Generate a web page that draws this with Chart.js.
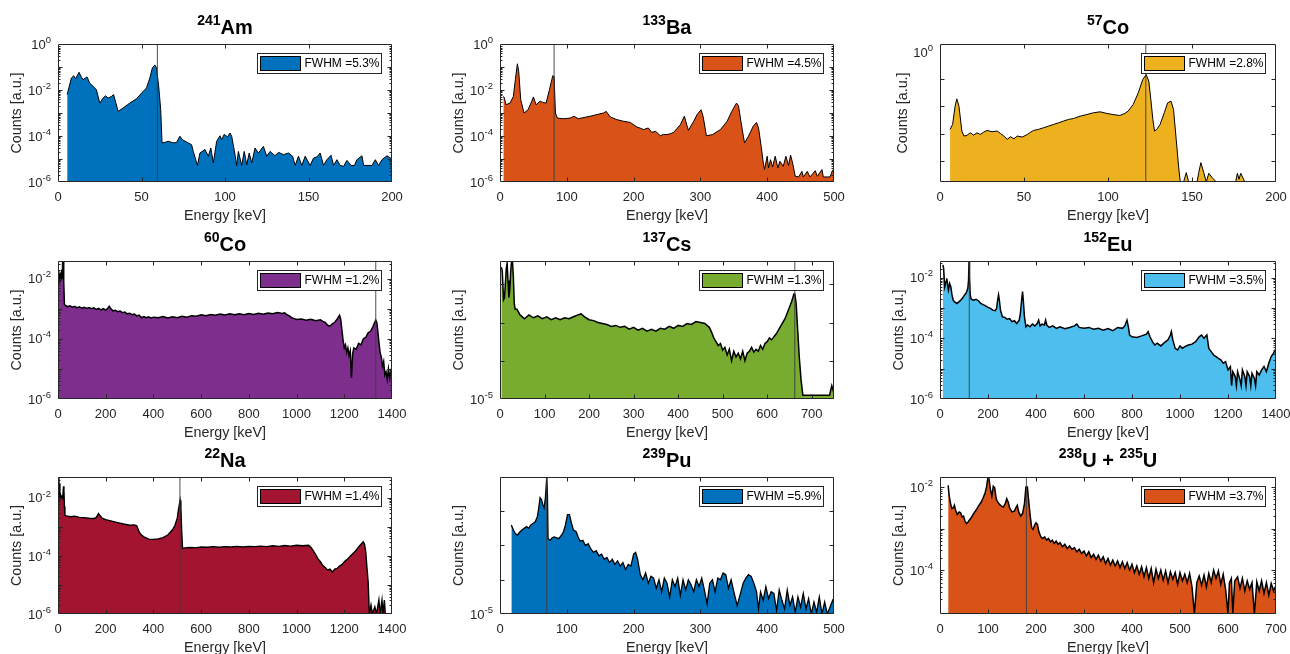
<!DOCTYPE html>
<html>
<head>
<meta charset="utf-8">
<title>Gamma spectra</title>
<script src="https://cdn.jsdelivr.net/npm/chart.js@4.4.1/dist/chart.umd.min.js"></script>
<style>
    body {
        margin: 0;
        width: 1290px;
        height: 654px;
        position: relative;
        overflow: hidden;
        background: #fff;
        font-family: "Liberation Sans", Arial, Helvetica, sans-serif;
    }
    canvas { position: absolute; }
    .panel-title {
        position: absolute;
        transform: translateX(-50%);
        font-size: 20px;
        line-height: 24px;
        font-weight: bold;
        color: #000;
        white-space: nowrap;
    }
    .panel-title sup {
        font-size: 14px;
        line-height: 0;
        position: relative;
        top: -9px;
        vertical-align: baseline;
    }
</style>
</head>
<body>
<script>
'use strict';

// ---- data (energy in keV, counts as log10 of a.u.) ----

const amEnergy = [5.5, 8, 9.4, 10.6, 12.6, 13.8, 15, 17.4, 19, 22, 23, 25, 27, 28.5, 30, 32, 33.3, 36, 39, 43,
    47, 51, 53, 55, 56.5, 58, 59, 60.3, 61.5, 62.3, 64, 66, 69, 71, 73, 74.5, 78, 80, 81, 83.5,
    85, 88, 90, 91.5, 93, 95, 97, 98, 99.5, 101.5, 103, 104, 106, 107, 108, 110, 111.5, 113, 114.5, 116,
    118, 120, 123, 125, 127, 130, 132, 135, 138, 140.5, 142, 144, 146, 148, 151, 153, 155, 157, 159, 161,
    163.5, 165, 167, 169, 171, 173, 175.5, 177.5, 179, 182, 183, 188, 190, 192, 194, 197, 200];
const amLogCounts = [-2.20, -1.48, -1.38, -1.51, -1.23, -1.41, -1.55, -1.43, -1.70, -1.91, -1.99, -2.57, -2.35, -2.25, -2.35, -2.28, -2.20, -2.93, -2.78, -2.57,
    -2.38, -2.06, -1.91, -1.48, -1.04, -0.91, -1.04, -1.84, -2.86, -4.30, -4.28, -4.23, -4.30, -4.28, -4.01, -4.16, -4.30, -4.38, -4.67, -5.28,
    -4.74, -4.59, -4.88, -4.52, -5.17, -4.23, -3.99, -4.16, -3.93, -4.04, -3.87, -4.01, -4.81, -5.28, -4.67, -5.28, -4.67, -5.25, -4.74, -5.17,
    -4.52, -4.74, -4.45, -4.88, -4.67, -4.86, -4.71, -4.81, -4.74, -4.88, -5.28, -4.88, -5.28, -4.88, -5.28, -4.96, -4.91, -4.74, -5.28, -5.03,
    -4.84, -5.28, -5.03, -5.28, -5.32, -5.06, -5.28, -5.28, -5.03, -4.86, -5.28, -5.28, -5.03, -5.28, -5.03, -4.86, -5.00];

const baEnergy = [5, 6, 9, 15, 20, 23, 26, 28, 31, 36, 42, 47.5, 50, 54, 60, 64, 69, 74, 79, 81,
    83, 86, 95, 105, 111, 117, 135, 145, 155, 159, 165, 175, 185, 195, 205, 210, 215, 222, 227, 233,
    240, 245, 250, 255, 260, 270, 276, 280, 282, 290, 295, 301, 304, 309, 318, 330, 340, 347, 354, 357,
    361, 366, 372, 379, 384, 387, 391, 394, 396, 400, 402, 405, 408, 412, 416, 419, 424, 428, 432, 435,
    438, 442, 447, 452, 454, 460, 464, 472, 475, 482, 484, 494, 498, 500];
const baLogCounts = [-2.28, -2.30, -2.64, -2.57, -2.28, -1.55, -0.86, -1.19, -2.42, -3.00, -2.86, -2.49, -2.30, -2.64, -2.49, -2.54, -2.57, -1.99, -1.38, -1.41,
    -3.00, -3.22, -3.25, -3.22, -3.14, -3.25, -3.14, -3.07, -3.00, -2.93, -3.17, -3.29, -3.36, -3.41, -3.61, -3.66, -3.72, -3.65, -3.84, -3.80,
    -3.99, -3.93, -3.94, -3.90, -3.84, -3.51, -3.14, -3.55, -3.75, -3.36, -3.07, -2.86, -3.14, -3.99, -3.94, -3.72, -3.36, -2.93, -2.57, -2.68,
    -3.43, -4.30, -4.01, -3.58, -3.41, -3.65, -4.45, -5.14, -5.46, -4.88, -5.39, -5.03, -5.35, -4.88, -5.39, -5.10, -5.32, -4.88, -5.28, -4.83,
    -5.17, -5.75, -5.78, -5.54, -5.78, -5.54, -5.78, -5.51, -5.75, -5.46, -5.78, -5.78, -5.49, -5.49];

const co57Energy = [6, 7.5, 9, 10, 11.3, 13, 14.3, 16, 18, 20, 22, 24, 26, 28, 31, 34, 36, 38, 40, 42,
    44, 46, 49, 52, 54, 55.6, 58.6, 61.6, 64.6, 67.5, 70.5, 73.5, 76.5, 79.5, 83.4, 87.4, 91.4, 95.3, 99.3, 103,
    107, 110, 112, 115, 118, 120.7, 122.7, 124.3, 125.5, 126.7, 127.7, 129, 131, 133.5, 135.5, 137.5, 139, 140.6, 142, 143,
    145, 146.6, 148, 153, 154, 155.3, 157, 158.5, 160, 162, 164.5, 176, 177, 178, 179, 181.5, 200];
const co57LogCounts = [-0.568, -0.532, -0.398, -0.344, -0.398, -0.580, -0.617, -0.612, -0.593, -0.610, -0.593, -0.605, -0.588, -0.576, -0.585, -0.580, -0.598, -0.617, -0.641, -0.622,
    -0.637, -0.617, -0.624, -0.605, -0.588, -0.576, -0.568, -0.556, -0.544, -0.532, -0.520, -0.507, -0.495, -0.488, -0.471, -0.459, -0.446, -0.439, -0.451, -0.459,
    -0.466, -0.451, -0.434, -0.385, -0.300, -0.202, -0.166, -0.215, -0.349, -0.495, -0.580, -0.568, -0.532, -0.446, -0.373, -0.361, -0.422, -0.641, -0.837, -0.954,
    -0.954, -0.885, -0.954, -0.954, -0.885, -0.812, -0.885, -0.954, -0.890, -0.922, -0.954, -0.954, -0.890, -0.934, -0.890, -0.954, -0.954];

const co60Energy = [1, 3, 5, 7, 9, 11, 13, 15, 17, 19, 21, 23, 25, 27,
    30, 40, 50, 60, 70, 80, 90, 100, 110, 120, 130, 140, 150, 160, 170, 180, 190, 200, 210, 215,
    220, 230, 240, 250, 260, 270, 280, 290, 300, 310, 320, 330, 340, 350, 360, 370, 380, 390, 400,
    420, 440, 460, 480, 500, 520, 540, 560, 580, 600, 620, 640, 660, 680, 700, 720, 740, 760, 780, 800, 820, 840, 860, 880, 900, 920, 940,
    950, 960, 970, 980, 990, 1000, 1020, 1040, 1060, 1080, 1100, 1110, 1120, 1130, 1140, 1150, 1160, 1170,
    1175, 1180, 1185, 1190, 1195, 1200, 1205, 1210, 1215, 1220, 1225, 1230, 1235, 1240,
    1250, 1260, 1270, 1280, 1290, 1300, 1310, 1320, 1325, 1332, 1336, 1340,
    1345, 1350, 1355, 1360, 1365, 1370, 1375, 1380, 1385, 1390, 1395, 1400];
const co60LogCounts = [-2.0, -1.75, -2.1, -1.85, -2.05, -1.8, -2.0, -1.7, -1.95, -1.5, -1.41, -1.41, -2.1, -2.85,
    -2.88, -2.93, -2.9, -2.95, -2.92, -2.97, -2.94, -2.98, -2.95, -2.99, -2.96, -3.0, -2.97, -3.02, -2.99, -3.04, -3.0, -3.05, -2.97, -2.92,
    -2.98, -3.07, -3.05, -3.1, -3.08, -3.13, -3.11, -3.17, -3.15, -3.2, -3.18, -3.24, -3.21, -3.3, -3.26, -3.3, -3.27, -3.31, -3.28,
    -3.3, -3.26, -3.31, -3.27, -3.3, -3.25, -3.28, -3.23, -3.25, -3.2, -3.23, -3.19, -3.22, -3.18, -3.21, -3.17, -3.2, -3.17, -3.2, -3.16, -3.19, -3.15, -3.18, -3.14, -3.17, -3.13, -3.16,
    -3.14, -3.2, -3.24, -3.3, -3.33, -3.36, -3.34, -3.38, -3.35, -3.4, -3.37, -3.42, -3.45, -3.55, -3.58, -3.5, -3.45, -3.35,
    -3.28, -3.22, -3.35, -3.7, -4.05, -4.3, -4.2, -4.45, -4.3, -4.55, -4.4, -5.3, -4.5, -4.3,
    -4.35, -4.15, -4.2, -4.0, -3.95, -3.8, -3.75, -3.6, -3.5, -3.38, -3.45, -3.7,
    -4.1, -4.45, -4.6, -4.9, -4.75, -5.2, -5.1, -5.35, -5.0, -5.3, -5.1, -5.3];

const csEnergy = [3, 5, 8, 10, 12, 14, 16, 18, 20, 22, 24, 26, 28, 30, 32, 34, 38,
    45, 55, 65, 75, 85, 95, 105, 115, 125, 135, 145, 155, 165, 175, 182, 190,
    200, 210, 220, 230, 240, 250, 260, 270, 280, 290, 300, 310, 320, 330, 340, 350, 360, 370, 380, 390, 400, 410, 420, 430, 440, 450, 460, 470,
    475, 480, 485, 490, 495, 500, 505, 510, 515, 520, 525, 530, 535, 540, 545, 550, 555, 560, 565, 570, 575, 580, 585, 590, 595, 600, 605, 610,
    620, 630, 640, 650, 655, 660, 662, 665, 668, 672, 676, 680, 690, 700, 720, 740, 745, 750];
const csLogCounts = [-4.31, -4.33, -4.48, -4.47, -4.4, -4.32, -4.29, -4.38, -4.47, -4.43, -4.33, -4.28, -4.278, -4.36, -4.5, -4.53, -4.53,
    -4.56, -4.58, -4.56, -4.575, -4.565, -4.58, -4.57, -4.585, -4.575, -4.585, -4.575, -4.58, -4.57, -4.56, -4.555, -4.57,
    -4.585, -4.59, -4.6, -4.605, -4.61, -4.62, -4.615, -4.625, -4.62, -4.635, -4.625, -4.64, -4.63, -4.645, -4.635, -4.645, -4.63, -4.635, -4.62, -4.63, -4.615, -4.62, -4.605, -4.61, -4.595, -4.6, -4.605, -4.625,
    -4.65, -4.68, -4.7, -4.72, -4.71, -4.745, -4.73, -4.77, -4.74, -4.8, -4.75, -4.78, -4.76, -4.79, -4.75, -4.8, -4.76, -4.75, -4.73, -4.755, -4.74, -4.75, -4.72, -4.74, -4.71, -4.7, -4.68, -4.69,
    -4.66, -4.62, -4.58, -4.52, -4.49, -4.45, -4.45, -4.5, -4.62, -4.78, -4.9, -4.98, -4.98, -4.98, -4.98, -4.98, -4.93, -4.97];

const euEnergy = [12, 15, 20, 25, 28, 32, 35, 40, 45, 50, 55, 60, 70, 80, 90, 100, 110, 116, 119, 121,
    123, 126, 130, 140, 150, 160, 170, 180, 190, 200, 210, 220, 230, 236, 240, 244, 248, 252, 260, 270,
    280, 290, 300, 310, 320, 330, 335, 340, 344, 347, 352, 358, 365, 375, 385, 395, 405, 411, 417, 425,
    435, 440, 445, 455, 470, 485, 500, 520, 540, 560, 570, 580, 600, 620, 640, 660, 680, 700, 720, 740,
    760, 770, 779, 785, 790, 800, 820, 840, 860, 867, 875, 885, 895, 905, 920, 935, 950, 960, 964, 970,
    980, 990, 1000, 1010, 1020, 1035, 1050, 1065, 1080, 1090, 1100, 1112, 1120, 1130, 1140, 1150, 1160, 1170, 1180, 1190,
    1200, 1210, 1215, 1220, 1230, 1235, 1240, 1250, 1255, 1260, 1270, 1275, 1280, 1290, 1295, 1300, 1310, 1315, 1320, 1330,
    1340, 1350, 1360, 1370, 1380, 1390, 1400];
const euLogCounts = [-1.58, -1.69, -2.30, -2.13, -2.02, -2.24, -2.41, -2.19, -2.30, -2.57, -2.74, -2.79, -2.85, -2.79, -2.71, -2.60, -2.49, -2.35, -2.08, -1.40,
    -1.97, -2.57, -2.71, -2.74, -2.71, -2.76, -2.85, -2.89, -2.93, -2.98, -3.01, -3.07, -3.09, -3.01, -2.74, -2.57, -2.79, -3.07, -3.29, -3.31,
    -3.37, -3.35, -3.45, -3.42, -3.51, -3.40, -3.18, -2.74, -2.46, -2.74, -3.29, -3.62, -3.56, -3.62, -3.53, -3.59, -3.51, -3.40, -3.59, -3.53,
    -3.56, -3.40, -3.56, -3.64, -3.59, -3.67, -3.62, -3.68, -3.64, -3.59, -3.53, -3.64, -3.67, -3.64, -3.70, -3.67, -3.73, -3.68, -3.75, -3.64,
    -3.67, -3.59, -3.40, -3.62, -3.89, -3.95, -3.97, -3.92, -3.86, -3.78, -3.95, -4.11, -4.22, -4.16, -4.25, -4.14, -4.05, -3.89, -3.78, -4.05,
    -4.33, -4.38, -4.25, -4.33, -4.27, -4.22, -4.19, -4.11, -3.95, -3.89, -4.00, -3.89, -4.33, -4.44, -4.55, -4.60, -4.66, -4.71, -4.82, -4.77,
    -5.04, -4.93, -5.56, -5.10, -5.26, -5.56, -5.10, -5.37, -5.56, -5.04, -5.26, -5.56, -5.10, -5.26, -5.56, -5.15, -5.32, -5.56, -5.10, -5.21,
    -5.04, -4.93, -5.10, -4.82, -4.60, -4.49, -4.33];

const naEnergy = [2, 4, 6, 8, 11, 14, 17, 20, 23, 25, 27, 29, 35, 50, 70, 90, 110, 130, 150, 160,
    170, 175, 185, 200, 225, 250, 275, 300, 320, 330, 340, 350, 360, 380, 400, 420, 440, 460, 480, 490,
    500, 505, 512, 515, 518, 522, 525, 550, 575, 600, 625, 650, 675, 700, 725, 750, 775, 800, 825, 850,
    875, 900, 925, 950, 975, 1000, 1025, 1050, 1060, 1070, 1080, 1090, 1100, 1110, 1120, 1130, 1140, 1150, 1160, 1170,
    1180, 1190, 1200, 1215, 1230, 1245, 1260, 1270, 1280, 1285, 1290, 1295, 1300, 1305, 1312, 1318, 1328, 1335, 1345, 1350,
    1358, 1362, 1368, 1372, 1400];
const naLogCounts = [-1.3, -1.85, -1.5, -2.0, -1.9, -2.0, -1.95, -2.0, -1.6, -1.74, -2.3, -2.6, -2.62, -2.65, -2.63, -2.67, -2.68, -2.7, -2.71, -2.68,
    -2.54, -2.6, -2.7, -2.75, -2.8, -2.85, -2.9, -2.94, -2.93, -2.96, -3.17, -3.28, -3.34, -3.42, -3.43, -3.41, -3.37, -3.28, -3.1, -2.95,
    -2.7, -2.4, -2.08, -2.3, -3.06, -3.74, -3.73, -3.71, -3.72, -3.69, -3.7, -3.68, -3.7, -3.68, -3.69, -3.67, -3.69, -3.67, -3.68, -3.66,
    -3.68, -3.65, -3.67, -3.64, -3.66, -3.63, -3.65, -3.63, -3.7, -3.82, -3.95, -4.1, -4.2, -4.33, -4.4, -4.49, -4.45, -4.55, -4.45, -4.43,
    -4.35, -4.3, -4.2, -4.1, -3.97, -3.85, -3.69, -3.6, -3.51, -3.6, -3.86, -4.4, -4.89, -6, -5.69, -6, -5.75, -6, -5.52, -6,
    -5.52, -6, -5.52, -6, -6];

const puEnergy = [17, 20, 23, 26, 30, 33, 36, 40, 43, 46, 50, 53, 56, 58, 60, 62, 64, 66, 68, 70,
    71, 72, 75, 78, 81, 85, 88, 92, 95, 98, 101, 104, 107, 110, 114, 117, 120, 124, 128, 132,
    136, 140, 144, 148, 152, 156, 160, 164, 168, 172, 176, 180, 184, 188, 192, 196, 200, 203, 206, 210,
    214, 218, 222, 226, 230, 234, 238, 242, 246, 250, 254, 258, 262, 266, 270, 274, 278, 282, 286, 290,
    294, 298, 302, 306, 310, 314, 318, 322, 326, 330, 334, 338, 342, 346, 350, 355, 360, 364, 368, 372,
    376, 380, 384, 387, 390, 394, 398, 402, 406, 410, 414, 418, 422, 426, 430, 434, 438, 442, 446, 450,
    454, 458, 462, 466, 470, 474, 478, 482, 486, 490, 494, 498, 500];
const puLogCounts = [-4.48, -4.51, -4.53, -4.54, -4.52, -4.51, -4.5, -4.49, -4.5, -4.48, -4.47, -4.46, -4.43, -4.38, -4.32, -4.33, -4.36, -4.38, -4.32, -4.2,
    -4.3, -4.56, -4.57, -4.555, -4.55, -4.555, -4.56, -4.54, -4.52, -4.48, -4.42, -4.42, -4.47, -4.51, -4.52, -4.55, -4.575, -4.57, -4.6, -4.59,
    -4.62, -4.64, -4.63, -4.66, -4.65, -4.68, -4.67, -4.7, -4.68, -4.71, -4.69, -4.72, -4.7, -4.74, -4.71, -4.72, -4.65, -4.64, -4.68, -4.77,
    -4.8, -4.76, -4.82, -4.78, -4.79, -4.85, -4.8, -4.87, -4.79, -4.82, -4.9, -4.8, -4.84, -4.79, -4.89, -4.8, -4.86, -4.8, -4.83, -4.87,
    -4.8, -4.84, -4.79, -4.86, -4.94, -4.82, -4.8, -4.87, -4.79, -4.8, -4.76, -4.77, -4.85, -4.8, -4.87, -4.95, -4.88, -4.82, -4.79, -4.77,
    -4.78, -4.82, -4.87, -4.97, -4.87, -4.92, -4.84, -4.91, -4.87, -4.88, -4.98, -4.86, -4.92, -4.97, -4.86, -4.95, -4.9, -4.99, -4.9, -4.96,
    -4.88, -4.97, -4.91, -5.0, -4.93, -4.99, -4.9, -5.0, -4.93, -5.0, -4.96, -4.92, -4.94];

const uEnergy = [17, 19, 22, 25, 28, 30, 33, 36, 40, 43, 46, 49, 52, 55, 58, 61, 65, 70, 75, 80,
    85, 90, 94, 97, 100, 102, 105, 108, 111, 114, 117, 120, 124, 128, 132, 136, 139, 142, 145, 150,
    155, 158, 161, 164, 168, 172, 176, 179, 182, 185, 188, 191, 194, 197, 200, 203, 206, 210, 214, 218,
    222, 226, 230, 234, 238, 242, 246,
    250, 255, 260, 265, 270, 275, 280, 285, 290, 295, 300, 305, 310, 315, 320, 325, 330, 335, 340, 345,
    350, 355, 360, 365, 370, 375, 380, 385, 390, 395, 400, 405, 410, 415, 420, 425, 430, 435, 440, 445,
    450, 455, 460, 465, 470, 475, 480, 485, 490, 495, 500, 505, 510, 515, 520, 525, 530, 535, 540, 545,
    550, 555, 560, 565, 570, 575, 580, 585, 590, 595, 600, 603, 607, 610, 614,
    620, 625, 630, 635, 640, 645, 650, 655, 660, 665, 670, 675, 680, 685, 690, 695, 700];
const uLogCounts = [-1.96, -2.2, -2.4, -2.52, -2.5, -2.44, -2.58, -2.66, -2.6, -2.62, -2.72, -2.7, -2.82, -2.88, -2.85, -2.8, -2.74, -2.64, -2.56, -2.46,
    -2.38, -2.26, -2.14, -2.0, -1.76, -1.8, -2.06, -2.22, -1.98, -2.02, -2.28, -2.36, -2.42, -2.46, -2.48, -2.4, -2.28, -2.36, -2.5, -2.6,
    -2.58, -2.5, -2.44, -2.6, -2.7, -2.64, -2.4, -2.0, -2.0, -2.36, -2.7, -2.98, -3.02, -2.92, -2.86, -2.9, -3.08, -3.2, -3.24, -3.2,
    -3.28, -3.24, -3.32, -3.28, -3.36, -3.3, -3.38,
    -3.34, -3.44, -3.38, -3.48, -3.42, -3.5, -3.46, -3.56, -3.5, -3.6, -3.54, -3.66, -3.56, -3.7, -3.62, -3.74, -3.64, -3.78, -3.68, -3.84,
    -3.72, -3.88, -3.76, -3.9, -3.78, -3.94, -3.8, -3.96, -3.82, -4.0, -3.86, -4.06, -3.9, -4.1, -3.92, -4.16, -3.94, -4.2, -3.96, -4.3,
    -3.98, -4.2, -4.0, -4.24, -4.02, -4.3, -4.04, -4.22, -4.06, -4.34, -4.06, -4.26, -4.1, -4.3, -4.08, -4.4, -5.05, -4.3, -4.14, -4.36,
    -4.12, -4.4, -4.08, -4.3, -4.0, -4.2, -4.02, -4.34, -4.1, -4.46, -5.05, -4.3, -4.2, -5.05, -4.26,
    -4.16, -4.44, -4.2, -4.5, -4.26, -4.46, -4.3, -5.05, -4.28, -4.5, -4.26, -4.56, -4.3, -4.6, -4.32, -4.5, -4.38];

// ---- per-panel labels and axis ranges (panel order: row by row) ----

const isotopeTitles = [
    [['241', 'Am']], [['133', 'Ba']], [['57', 'Co']],
    [['60', 'Co']], [['137', 'Cs']], [['152', 'Eu']],
    [['22', 'Na']], [['239', 'Pu']], [['238', 'U'], ['235', 'U']]
];
const fwhmLabels = ['FWHM =5.3%', 'FWHM =4.5%', 'FWHM =2.8%', 'FWHM =1.2%', 'FWHM =1.3%',
    'FWHM =3.5%', 'FWHM =1.4%', 'FWHM =5.9%', 'FWHM =3.7%'];
const peakEnergies = [59.5, 81, 122.5, 1332, 662, 122, 511, 70, 180];
const energyMax = [200, 500, 200, 1400, 750, 1400, 1400, 500, 700];
const energyTicks = [
    [0, 50, 100, 150, 200], [0, 100, 200, 300, 400, 500], [0, 50, 100, 150, 200],
    [0, 200, 400, 600, 800, 1000, 1200, 1400], [0, 100, 200, 300, 400, 500, 600, 700], [0, 200, 400, 600, 800, 1000, 1200, 1400],
    [0, 200, 400, 600, 800, 1000, 1200, 1400], [0, 100, 200, 300, 400, 500], [0, 100, 200, 300, 400, 500, 600, 700]
];
const countLogRanges = [[-6, 0], [-6, 0], [-0.954, 0.0585], [-6, -1.414], [-5, -4.278],
    [-6, -1.45], [-6, -1.28], [-5, -4.2], [-5.056, -1.76]];
const countLabelExponents = [[-6, -4, -2, 0], [-6, -4, -2, 0], [0], [-6, -4, -2], [-5],
    [-6, -4, -2], [-6, -4, -2], [-5], [-4, -2]];
const countSubDecadeTicks = [[], [], [-0.2, -0.4, -0.6, -0.8], [], [-4.8, -4.6, -4.4],
    [], [], [-4.8, -4.6, -4.4], []];

const spectra = [
    [amEnergy, amLogCounts], [baEnergy, baLogCounts], [co57Energy, co57LogCounts],
    [co60Energy, co60LogCounts], [csEnergy, csLogCounts], [euEnergy, euLogCounts],
    [naEnergy, naLogCounts], [puEnergy, puLogCounts], [uEnergy, uLogCounts]
];

// ---- look ----

const areaColors = ['#0072BD', '#D95319', '#EDB120', '#7E2F8E', '#77AC30', '#4DBEEE', '#A2142F', '#0072BD', '#D95319'];
const edgeWidths = [1, 1, 1, 1.5, 1.5, 1.5, 1.4, 1.3, 1.5];
const axisColor = '#262626';
const fontFamily = '"Liberation Sans", Arial, Helvetica, sans-serif';
const colLeft = [58, 500, 940];
const colWidth = [334, 334, 336];
const rowTop = [44, 261, 477];
const rowHeight = [138, 138, 137];
const yAxisWidth = 50;
const xAxisHeight = 43;
const padTop = 10;
const padRight = 26;

Chart.defaults.font.family = fontFamily;

function buildPoints(energy, logCounts) {
    const n = Math.min(energy.length, logCounts.length);
    if (energy.length !== logCounts.length) console.warn('length mismatch', energy.length, logCounts.length);
    const points = [];
    for (let i = 0; i < n; i++) points.push({ x: energy[i], y: 10 ** logCounts[i] });
    return points;
}

// frame with inward ticks on all four sides, 10^n tick labels, boxed legend (MATLAB style)
const matlabFrame = {
    id: 'matlabFrame',
    afterDatasetsDraw(chart) {
        const spec = chart.options.plugins.matlabFrame;
        const { ctx, chartArea: a, scales: { x, y } } = chart;
        const left = Math.round(a.left) + 0.5;
        const right = Math.round(a.right) - 0.5;
        const top = Math.round(a.top) + 0.5;
        const bottom = Math.round(a.bottom) - 0.5;

        ctx.save();
        ctx.strokeStyle = axisColor;
        ctx.lineWidth = 1;
        ctx.beginPath();
        ctx.rect(left, top, right - left, bottom - top);

        spec.xTicks.forEach(v => {
            const px = Math.round(x.getPixelForValue(v)) + 0.5;
            if (px <= left + 1 || px >= right - 1) return;
            ctx.moveTo(px, bottom); ctx.lineTo(px, bottom - 4);
            ctx.moveTo(px, top); ctx.lineTo(px, top + 4);
        });

        const yTick = (logV, len) => {
            const py = Math.round(y.getPixelForValue(10 ** logV)) + 0.5;
            if (py <= top + 1 || py >= bottom - 1) return;
            ctx.moveTo(left, py); ctx.lineTo(left + len, py);
            ctx.moveTo(right, py); ctx.lineTo(right - len, py);
        };
        const [lo, hi] = spec.logRange;
        if (spec.subDecade.length) {
            spec.subDecade.forEach(v => yTick(v, 4));
        } else {
            for (let n = Math.floor(lo); n <= Math.ceil(hi); n++) {
                for (let k = 1; k <= 9; k++) {
                    const lv = n + Math.log10(k);
                    if (lv > lo && lv < hi) yTick(lv, k === 1 ? 4 : 2);
                }
            }
        }
        ctx.stroke();

        // y tick labels as 10 with a raised exponent
        ctx.fillStyle = axisColor;
        ctx.textBaseline = 'middle';
        ctx.textAlign = 'left';
        y.ticks.forEach(t => {
            const exp = String(Math.round(Math.log10(t.value)));
            const py = y.getPixelForValue(t.value);
            ctx.font = '9.5px ' + fontFamily;
            const wExp = ctx.measureText(exp).width;
            ctx.font = '13px ' + fontFamily;
            const wBase = ctx.measureText('10').width;
            const xEnd = a.left - 7;
            ctx.fillText('10', xEnd - wExp - wBase, py + 1);
            ctx.font = '9.5px ' + fontFamily;
            ctx.fillText(exp, xEnd - wExp, py - 4);
        });

        // legend box
        const boxW = 124, boxH = 20;
        const bx = Math.round(a.right - 11 - boxW) + 0.5;
        const by = Math.round(a.top + 9) + 0.5;
        ctx.fillStyle = '#fff';
        ctx.fillRect(bx, by, boxW, boxH);
        ctx.strokeStyle = axisColor;
        ctx.strokeRect(bx, by, boxW, boxH);
        ctx.fillStyle = spec.color;
        ctx.fillRect(bx + 3, by + 3, 40, boxH - 6);
        ctx.strokeStyle = '#000';
        ctx.strokeRect(bx + 3, by + 3, 40, boxH - 6);
        ctx.fillStyle = '#000';
        ctx.font = '12px ' + fontFamily;
        ctx.fillText(spec.label, bx + 47, by + boxH / 2 + 0.5);
        ctx.restore();
    }
};

function addTitle(parts, centerX, plotTop) {
    const div = document.createElement('div');
    div.className = 'panel-title';
    div.style.left = centerX + 'px';
    div.style.top = (plotTop - 29) + 'px';
    div.innerHTML = parts.map(([mass, symbol]) => `<sup>${mass}</sup>${symbol}`).join(' + ');
    document.body.appendChild(div);
}

function drawPanel(i) {
    const col = i % 3;
    const row = Math.floor(i / 3);
    const plotLeft = colLeft[col];
    const plotTop = rowTop[row];
    const plotW = colWidth[col];
    const plotH = rowHeight[row];

    const canvas = document.createElement('canvas');
    canvas.width = yAxisWidth + plotW + padRight;
    canvas.height = padTop + plotH + xAxisHeight + 2;
    canvas.style.left = (plotLeft - yAxisWidth) + 'px';
    canvas.style.top = (plotTop - padTop) + 'px';
    document.body.appendChild(canvas);

    const [lo, hi] = countLogRanges[i];
    const [energy, logCounts] = spectra[i];
    const peak = peakEnergies[i];

    new Chart(canvas.getContext('2d'), {
        type: 'line',
        data: {
            datasets: [
                {
                    label: fwhmLabels[i],
                    data: buildPoints(energy, logCounts),
                    borderColor: '#000',
                    borderWidth: edgeWidths[i],
                    borderJoinStyle: 'miter',
                    backgroundColor: areaColors[i],
                    fill: 'start',
                    pointRadius: 0,
                    tension: 0,
                    order: 2
                },
                {
                    label: 'peak',
                    data: [{ x: peak, y: 10 ** lo }, { x: peak, y: 10 ** hi }],
                    borderColor: 'rgba(60,60,60,0.9)',
                    borderWidth: 1,
                    fill: false,
                    pointRadius: 0,
                    order: 1
                }
            ]
        },
        options: {
            responsive: false,
            animation: false,
            devicePixelRatio: 1,
            layout: { padding: { left: 0, top: padTop, right: padRight, bottom: 2 } },
            plugins: {
                legend: { display: false },
                tooltip: { enabled: false },
                matlabFrame: {
                    xTicks: energyTicks[i],
                    logRange: countLogRanges[i],
                    subDecade: countSubDecadeTicks[i],
                    color: areaColors[i],
                    label: fwhmLabels[i]
                }
            },
            scales: {
                x: {
                    type: 'linear',
                    min: 0,
                    max: energyMax[i],
                    afterBuildTicks: scale => { scale.ticks = energyTicks[i].map(v => ({ value: v })); },
                    afterFit: scale => { scale.height = xAxisHeight; },
                    grid: { display: false, drawTicks: false },
                    border: { display: false },
                    ticks: { autoSkip: false, maxRotation: 0, padding: 8, color: axisColor, font: { size: 13 }, callback: v => String(v) },
                    title: { display: true, text: 'Energy [keV]', color: axisColor, font: { size: 14.3 }, padding: 0 }
                },
                y: {
                    type: 'logarithmic',
                    min: 10 ** lo,
                    max: 10 ** hi,
                    afterBuildTicks: scale => { scale.ticks = countLabelExponents[i].map(e => ({ value: 10 ** e })); },
                    afterFit: scale => { scale.width = yAxisWidth; },
                    grid: { display: false, drawTicks: false },
                    border: { display: false },
                    ticks: { display: false },
                    title: {
                        display: true, text: 'Counts [a.u.]', color: axisColor, font: { size: 14.3 },
                        padding: { top: i === 2 ? 4 : 0, bottom: 0 }
                    }
                }
            }
        },
        plugins: [matlabFrame]
    });

    addTitle(isotopeTitles[i], plotLeft + plotW / 2, plotTop);
}

for (let i = 0; i < spectra.length; i++) drawPanel(i);
</script>
</body>
</html>
